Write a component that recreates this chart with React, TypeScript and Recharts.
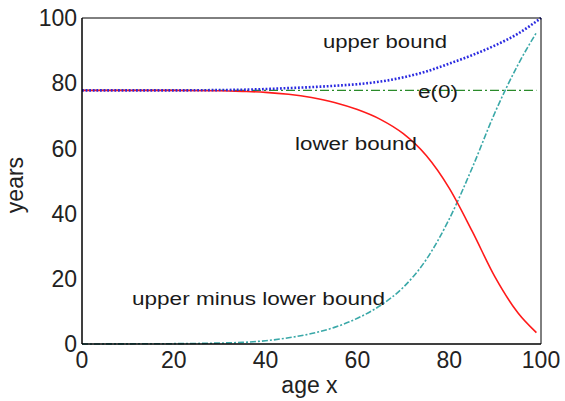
import React from "react";
import { LineChart, Line, XAxis, YAxis, ReferenceDot } from "recharts";

const ages = [0, 10, 20, 30, 35, 40, 45, 50, 55, 60, 65, 70, 75, 80, 85, 90, 95, 99];
const upperAges = [0, 10, 20, 30, 35, 40, 45, 50, 55, 60, 65, 70, 75, 80, 85, 90, 95, 100];
const upperBound = [77.8, 77.8, 77.8, 77.9, 78.0, 78.2, 78.5, 78.8, 79.2, 79.7, 80.5, 81.8, 83.6, 86.0, 88.6, 91.6, 95.2, 100];
const lowerBound = [77.8, 77.8, 77.8, 77.7, 77.5, 77.2, 76.6, 75.6, 74.1, 71.9, 68.9, 64.5, 57.8, 47.8, 34.6, 20.5, 9.5, 3.5];
const difference = [0, 0.05, 0.1, 0.3, 0.5, 1.0, 1.9, 3.2, 5.1, 7.9, 11.8, 17.4, 25.9, 38.3, 54.0, 71.1, 85.7, 95.5];
const e0Ages = [0, 99];
const e0Values = [77.8, 77.8];

const xTicks = [0, 20, 40, 60, 80, 100];
const yTicks = [0, 20, 40, 60, 80, 100];

const annotations = [
  { text: "upper bound", age: 52.5, value: 90.8, len: 124 },
  { text: "e(0)", age: 73.2, value: 75.5, len: 40 },
  { text: "lower bound", age: 46.4, value: 59.5, len: 122 },
  { text: "upper minus lower bound", age: 10.9, value: 12.0, len: 253 },
];

const upperData = upperAges.map((a, i) => ({ age: a, v: upperBound[i] }));
const lowerData = ages.map((a, i) => ({ age: a, v: lowerBound[i] }));
const diffData = ages.map((a, i) => ({ age: a, v: difference[i] }));
const e0Data = e0Ages.map((a, i) => ({ age: a, v: e0Values[i] }));

const FONT = "'Liberation Sans', Arial, Helvetica, sans-serif";
const tickStyle = { fontSize: 23, fill: "#222", fontFamily: FONT };

const makeAnnot = (text: string, len: number) => (props: any) => {
  const vb = props.viewBox || {};
  return (
    <text
      x={vb.x}
      y={vb.y}
      textLength={len}
      lengthAdjust="spacingAndGlyphs"
      fontSize={18}
      fontFamily={FONT}
      fill="#1a1a1a"
    >
      {text}
    </text>
  );
};

const YLabel = (props: any) => {
  const vb = props.viewBox || {};
  const x = vb.x + 23;
  const y = vb.y + vb.height / 2 + 4;
  return (
    <text x={x} y={y} transform={`rotate(-90, ${x}, ${y})`} textAnchor="middle" fontSize={23} fontFamily={FONT} fill="#222">
      years
    </text>
  );
};

const XLabel = (props: any) => {
  const vb = props.viewBox || {};
  return (
    <text x={vb.x + vb.width / 2 - 2} y={vb.y + 49} textAnchor="middle" fontSize={23} fontFamily={FONT} fill="#222">
      age x
    </text>
  );
};

const frameProps = {
  type: "number" as const,
  domain: [0, 100],
  mirror: true,
  tick: false,
  tickSize: 5,
  stroke: "#000",
  tickLine: { stroke: "#000" },
  axisLine: { stroke: "#000" },
};

export default function App() {
  return (
    <div style={{ position: "absolute", left: 0, top: 0, width: 565, height: 401, background: "#fff" }}>
      <LineChart width={565} height={401} margin={{ top: 18, right: 24, bottom: 0, left: 0 }}>
        <XAxis
          dataKey="age"
          type="number"
          domain={[0, 100]}
          ticks={xTicks}
          height={57}
          tickLine={false}
          tickSize={0}
          tickMargin={8}
          tick={tickStyle}
          stroke="#000"
          axisLine={{ stroke: "#000" }}
          label={{ content: XLabel }}
        />
        <YAxis
          type="number"
          domain={[0, 100]}
          ticks={yTicks}
          width={82}
          tickLine={false}
          tickSize={0}
          tickMargin={5}
          tick={tickStyle}
          stroke="#000"
          axisLine={{ stroke: "#000" }}
          label={{ content: YLabel }}
        />
        <XAxis xAxisId="bm" orientation="bottom" ticks={xTicks} {...frameProps} />
        <XAxis xAxisId="tm" orientation="top" ticks={xTicks} {...frameProps} />
        <YAxis yAxisId="lm" orientation="left" ticks={yTicks} {...frameProps} />
        <YAxis yAxisId="rm" orientation="right" ticks={yTicks} {...frameProps} />
        <Line data={e0Data} dataKey="v" type="linear" stroke="#2a8a2a" strokeWidth={1.2} strokeDasharray="9 3 2 3" dot={false} activeDot={false} isAnimationActive={false} />
        <Line data={diffData} dataKey="v" type="monotone" stroke="#3aa8a8" strokeWidth={1.6} strokeDasharray="6 2 2 2" dot={false} activeDot={false} isAnimationActive={false} />
        <Line data={lowerData} dataKey="v" type="monotone" stroke="#ff1a1a" strokeWidth={1.6} dot={false} activeDot={false} isAnimationActive={false} />
        <Line data={upperData} dataKey="v" type="monotone" stroke="#2a2ae0" strokeWidth={2.6} strokeDasharray="1.8 1.8" dot={false} activeDot={false} isAnimationActive={false} />
        {annotations.map((a) => (
          <ReferenceDot key={a.text} x={a.age} y={a.value} r={0} fill="none" stroke="none" label={{ content: makeAnnot(a.text, a.len) }} />
        ))}
      </LineChart>
    </div>
  );
}
